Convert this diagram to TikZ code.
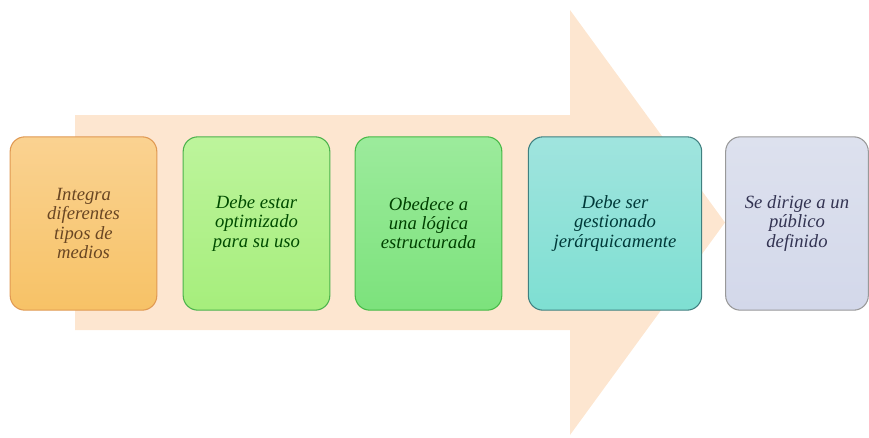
\documentclass[tikz,border=0pt]{standalone}
\usepackage{fontspec}
\setmainfont{Liberation Serif}
\definecolor{flecha}{HTML}{FDE6D0}
\definecolor{naranjaA}{HTML}{FAD291}
\definecolor{naranjaB}{HTML}{F7C266}
\definecolor{verdeA}{HTML}{BDF49C}
\definecolor{verdeB}{HTML}{A6EE7C}
\definecolor{verdeC}{HTML}{9CEB9C}
\definecolor{verdeD}{HTML}{7CE27C}
\definecolor{turqA}{HTML}{A0E4DE}
\definecolor{turqB}{HTML}{7EDFD2}
\definecolor{lilaA}{HTML}{DDE1EE}
\definecolor{lilaB}{HTML}{D3D8EA}
\tikzset{
  caja/.style={draw, line width=0.8pt, rounded corners=11pt, align=center,
    minimum height=130pt, inner sep=2pt,
    font=\fontsize{14}{14.3}\selectfont\itshape},
}
\begin{document}
\begin{tikzpicture}[x=0.75pt,y=-0.75pt]
    \useasboundingbox (0,0) rectangle (869,437);

    % flecha de fondo
    \fill[flecha] (75,115) -- (570,115) -- (570,10) -- (725,222.5)
        -- (570,435) -- (570,330) -- (75,330) -- cycle;

    % cajas
    \node[caja, minimum width=110pt, top color=naranjaA, bottom color=naranjaB,
        draw=brown!60!orange!80, text=brown!55!black]
        (integra) at (83.5,223.5) {Integra\\diferentes\\tipos de\\medios};
    \node[caja, minimum width=110pt, top color=verdeA, bottom color=verdeB,
        draw=green!40!gray, text=green!30!black]
        (optimizado) at (256.5,223.5) {Debe estar\\optimizado\\para su uso};
    \node[caja, minimum width=110pt, top color=verdeC, bottom color=verdeD,
        draw=green!45!gray, text=green!25!black]
        (logica) at (428.5,223.5) {Obedece a\\una lógica\\estructurada};
    \node[caja, minimum width=130pt, top color=turqA, bottom color=turqB,
        draw=teal!50!gray, text=teal!45!black]
        (jerarquico) at (615,223.5) {Debe ser\\gestionado\\jerárquicamente};
    \node[caja, minimum width=107pt, top color=lilaA, bottom color=lilaB,
        draw=gray!80, text=blue!15!black!80]
        (publico) at (797,223.5) {Se dirige a un\\público\\definido};
\end{tikzpicture}
\end{document}
